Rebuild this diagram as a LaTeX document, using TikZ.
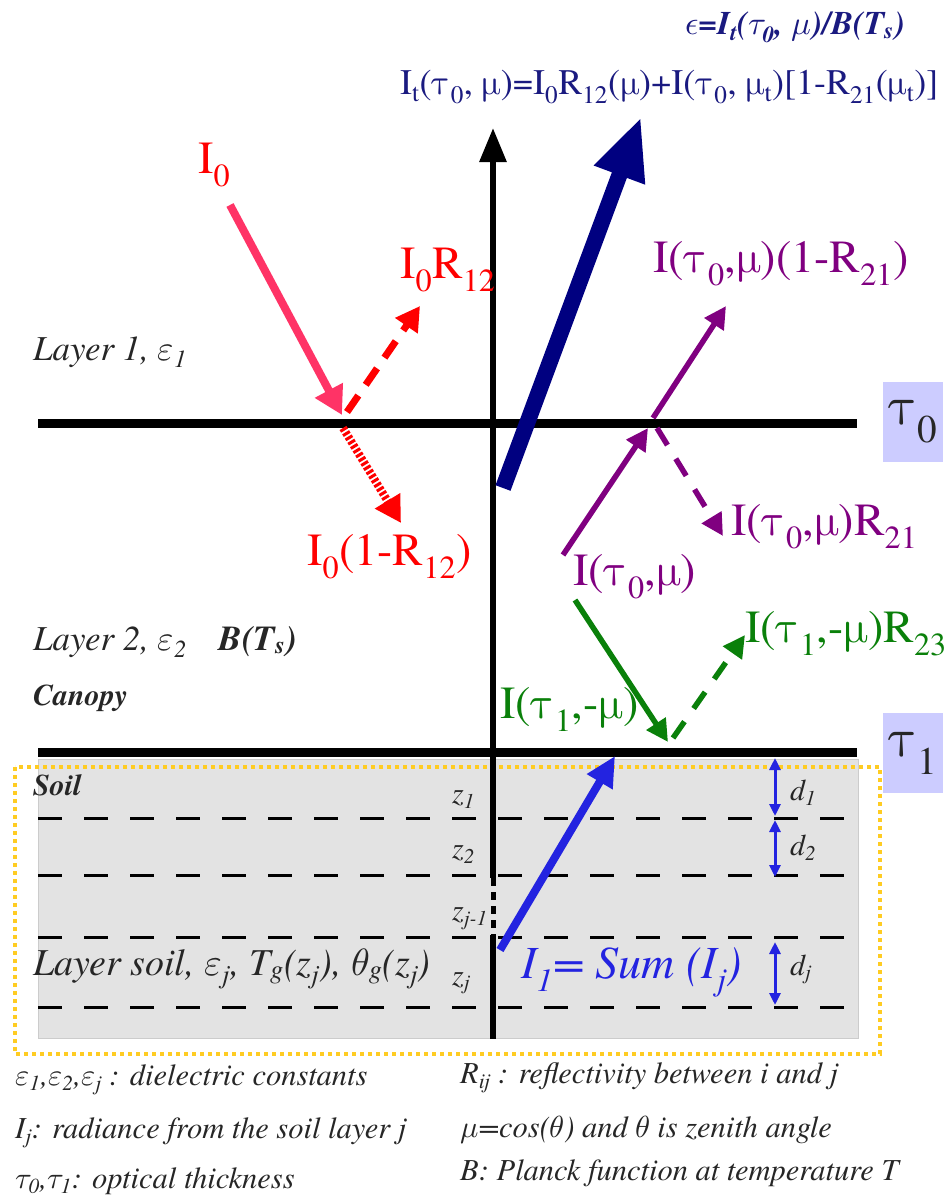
\documentclass[tikz,border=0pt]{standalone}
\usepackage{fontspec}
\IfFontExistsTF{texgyretermes-regular.otf}
  {\setmainfont{texgyretermes}[Extension=.otf, UprightFont=*-regular, BoldFont=*-bold,
     ItalicFont=*-italic, BoldItalicFont=*-bolditalic]}
  {}
\IfFontExistsTF{texgyretermes-math.otf}
  {\newfontfamily\grk{texgyretermes-math.otf}}
  {\IfFontExistsTF{latinmodern-math.otf}
     {\newfontfamily\grk{latinmodern-math.otf}}
     {\newfontfamily\grk{DejaVu Serif}}}
\usepackage{tikz}
\usetikzlibrary{arrows.meta}

\definecolor{rayred}{HTML}{FF0000}
\definecolor{raypink}{HTML}{FF3366}
\definecolor{raynavy}{HTML}{000080}
\definecolor{textnavy}{HTML}{1A1A80}
\definecolor{raypurple}{HTML}{800080}
\definecolor{raygreen}{HTML}{0A800A}
\definecolor{rayblue}{HTML}{2323E0}
\definecolor{tauback}{HTML}{CCCCFF}
\definecolor{soilgray}{HTML}{E3E3E3}
\definecolor{dotgold}{HTML}{FFCC22}

\newcommand{\lo}[1]{\textsubscript{#1}}
% upright and italic greek
\newcommand{\utau}{{\grk τ}}
\newcommand{\umu}{{\grk μ}}
\newcommand{\itau}{{\grk 𝜏}}
\newcommand{\imu}{{\grk 𝜇}}
\newcommand{\ieps}{{\grk 𝜀}}
\newcommand{\ilun}{{\grk 𝜖}}
\newcommand{\ithe}{{\grk 𝜃}}

\begin{document}
\begin{tikzpicture}[x=1pt,y=-1pt,
    txt/.style={inner sep=0pt, anchor=base west},
    big/.style={txt, font=\fontsize{46}{50}\selectfont},
    layertxt/.style={txt, text=black!85, font=\fontsize{35}{40}\selectfont\itshape},
    smalltxt/.style={txt, text=black!85, font=\fontsize{30}{34}\selectfont\itshape},
    legend/.style={txt, text=black!85, font=\fontsize{30.5}{34}\selectfont\itshape},
    taubox/.style={fill=tauback, minimum width=60pt, minimum height=80pt, inner sep=0pt,
                   text=black!85, font=\fontsize{56}{60}\selectfont},
    interface/.style={line width=9pt},
    soilline/.style={line width=3pt, dash pattern=on 24pt off 22pt},
    ray/.style={line width=6pt, -{Triangle[length=22pt,width=22pt]}},
    depth/.style={rayblue, line width=3pt, {Triangle[length=12pt,width=11pt]}-{Triangle[length=12pt,width=11pt]}}]
  \useasboundingbox (0,0) rectangle (945,1199);

  % Soil block
  \fill[soilgray, draw=black!20, line width=1pt] (38,759) rectangle (858,1038);
  \draw[dotgold, line width=4pt, dash pattern=on 4pt off 4pt] (15,767) rectangle (880,1054);
  \foreach \y in {818,875,937,1007}
    \draw[soilline] (38,\y) -- (850,\y);

  % Interfaces
  \draw[interface] (38,423) -- (857,423);
  \draw[interface] (38,752) -- (857,752);
  \node[taubox] (tau0) at (913,422) {\utau\lo{0}};
  \node[taubox] (tau1) at (913,753) {\utau\lo{1}};

  % Vertical axis
  \coordinate (axtop) at (493,128);
  \coordinate (axmid) at (493,878);
  \coordinate (axgap) at (493,935);
  \coordinate (axbot) at (493,1039);
  \draw[line width=6pt, -{Triangle[length=34pt,width=26pt]}] (axmid) -- (axtop);
  \draw[line width=5pt, dash pattern=on 8pt off 6pt] (axmid) -- (axgap);
  \draw[line width=6pt] (axgap) -- (axbot);

  % Top formulas
  \node[txt, text=textnavy, font=\fontsize{33}{36}\selectfont\itshape\bfseries] (emis) at (685,35)
    {\ilun=I\lo{t}(\itau\lo{0}, \imu)/B(T\lo{s})};
  \node[txt, text=textnavy, font=\fontsize{36}{40}\selectfont] (total) at (400,95)
    {I\lo{t}(\utau\lo{0}, \umu)=I\lo{0}R\lo{12}(\umu)+I(\utau\lo{0}, \umu\lo{t})[1-R\lo{21}(\umu\lo{t})]};

  % Layer labels
  \node[layertxt] (lay1) at (33,360) {Layer 1, \ieps\lo{1}};
  \node[layertxt] (lay2) at (33,650) {Layer 2, \ieps\lo{2}\hspace{32pt}\textbf{B(T\lo{s})}};
  \node[smalltxt, font=\fontsize{30}{34}\selectfont\itshape\bfseries] (canopy) at (33,705) {Canopy};
  \node[smalltxt, font=\fontsize{30}{34}\selectfont\itshape\bfseries] (soil) at (33,795) {Soil};
  \node[txt, text=black!85, font=\fontsize{38}{40}\selectfont\itshape] (laysoil) at (33,975)
    {Layer soil, \ieps\lo{j}, T\lo{g}(z\lo{j}), \ithe\lo{g}(z\lo{j})};

  % Depth labels
  \node[smalltxt] (z1) at (452,803) {z\lo{1}};
  \node[smalltxt] (z2) at (452,858) {z\lo{2}};
  \node[smalltxt] (zj1) at (452,920) {z\lo{j-1}};
  \node[smalltxt] (zj) at (452,985) {z\lo{j}};
  \node[smalltxt] (d1) at (790,800) {d\lo{1}};
  \node[smalltxt] (d2) at (790,855) {d\lo{2}};
  \node[smalltxt] (dj) at (790,975) {d\lo{j}};
  \coordinate (d1top) at (775,758);
  \coordinate (d1bot) at (775,816);
  \coordinate (d2top) at (775,820);
  \coordinate (d2bot) at (775,877);
  \coordinate (djtop) at (775,942);
  \coordinate (djbot) at (775,1005);
  \draw[depth] (d1top) -- (d1bot);
  \draw[depth] (d2top) -- (d2bot);
  \draw[depth] (djtop) -- (djbot);

  % Incident ray and interface 1
  \node[big, text=rayred] (inc) at (198,173) {I\lo{0}};
  \node[big, text=rayred] (refl) at (400,278) {I\lo{0}R\lo{12}};
  \node[big, text=rayred] (trans) at (307,565) {I\lo{0}(1-R\lo{12})};
  \coordinate (i0tail) at (230,205);
  \coordinate (i0hit) at (342,415);
  \coordinate (r12tail) at (347,412);
  \coordinate (r12head) at (420,306);
  \coordinate (t12tail) at (343,428);
  \coordinate (t12head) at (401,523);
  \draw[ray, raypink, line width=8pt, -{Triangle[length=28pt,width=30pt]}] (i0tail) -- (i0hit);
  \draw[ray, rayred, line width=7pt, dash pattern=on 20pt off 13pt, -{Triangle[length=24pt,width=26pt]}] (r12tail) -- (r12head);
  \draw[ray, rayred, line width=8pt, dash pattern=on 3pt off 2pt, -{Triangle[length=26pt,width=28pt]}] (t12tail) -- (t12head);

  % Total upwelling
  \coordinate (navytail) at (503,488);
  \coordinate (navyhead) at (641,117);
  \draw[raynavy, line width=16pt, -{Triangle[length=62pt,width=50pt]}] (navytail) -- (navyhead);

  % Canopy emission
  \node[big, text=raypurple] (up0) at (573,585) {I(\utau\lo{0},\umu)};
  \node[big, text=raypurple] (out0) at (653,272) {I(\utau\lo{0},\umu)(1-R\lo{21})};
  \node[big, text=raypurple] (back0) at (731,535) {I(\utau\lo{0},\umu)R\lo{21}};
  \coordinate (p1tail) at (563,555);
  \coordinate (p1head) at (648,428);
  \coordinate (p2tail) at (653,418);
  \coordinate (p2head) at (726,306);
  \coordinate (p3tail) at (657,428);
  \coordinate (p3head) at (723,536);
  \draw[ray, raypurple, line width=5.5pt] (p1tail) -- (p1head);
  \draw[ray, raypurple, line width=5.5pt] (p2tail) -- (p2head);
  \draw[ray, raypurple, line width=5.5pt, dash pattern=on 20pt off 16pt] (p3tail) -- (p3head);

  % Downwelling to soil
  \node[big, text=raygreen] (down1) at (500,718) {I(\utau\lo{1},-\umu)};
  \node[big, text=raygreen] (refl1) at (745,642) {I(\utau\lo{1},-\umu)R\lo{23}};
  \coordinate (g1tail) at (575,600);
  \coordinate (g1head) at (668,742);
  \coordinate (g2tail) at (673,738);
  \coordinate (g2head) at (745,635);
  \draw[ray, raygreen, line width=5.5pt] (g1tail) -- (g1head);
  \draw[ray, raygreen, line width=5.5pt, dash pattern=on 20pt off 16pt] (g2tail) -- (g2head);

  % Soil emission
  \node[big, text=rayblue, font=\fontsize{46}{50}\selectfont\itshape] (sum) at (521,978) {I\lo{1}= Sum (I\lo{j})};
  \coordinate (btail) at (500,950);
  \coordinate (bhead) at (615,756);
  \draw[ray, rayblue, line width=8pt, -{Triangle[length=30pt,width=28pt]}] (btail) -- (bhead);

  % Legend
  \node[legend] (leg1) at (15,1085) {\ieps\lo{1},\ieps\lo{2},\ieps\lo{j} : dielectric constants};
  \node[legend] (leg2) at (15,1138) {I\lo{j}: radiance from the soil layer j};
  \node[legend] (leg3) at (15,1188) {\itau\lo{0},\itau\lo{1}: optical thickness};
  \node[legend] (leg4) at (460,1083) {R\lo{ij} : reflectivity between i and j};
  \node[legend] (leg5) at (460,1137) {\imu=cos(\ithe) and \ithe\ is zenith angle};
  \node[legend] (leg6) at (460,1180) {B: Planck function at temperature T};
\end{tikzpicture}
\end{document}
